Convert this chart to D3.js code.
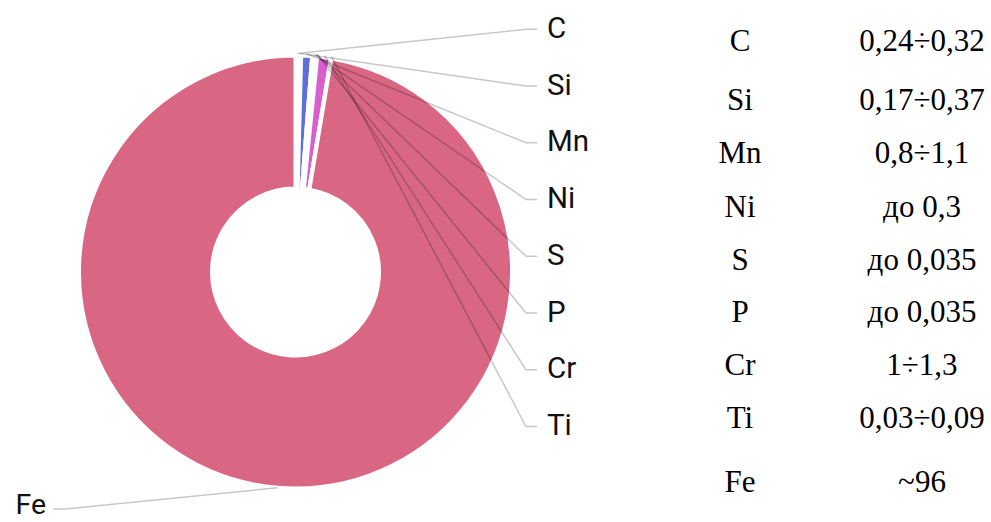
<!DOCTYPE html>
<html>
<head>
<meta charset="utf-8">
<script src="https://cdn.jsdelivr.net/npm/d3@7"></script>
<style>
  html, body { margin: 0; padding: 0; background: #fff; }
  svg { display: block; }
</style>
</head>
<body>
<svg id="chart" width="991" height="522"></svg>
<script>
// Composition of the steel, mass %
const elements = ["C", "Si", "Mn", "Ni", "S", "P", "Cr", "Ti", "Fe"];
const shares   = [0.24, 0.17, 0.8, 0.3, 0.035, 0.035, 1, 0.03, 96];
const ranges   = ["0,24÷0,32", "0,17÷0,37", "0,8÷1,1", "до 0,3", "до 0,035",
                  "до 0,035", "1÷1,3", "0,03÷0,09", "~96"];
const colors   = ["#8fa6e8", "#f2b0c8", "#606ddc", "#9fd4e8", "#f5c98a",
                  "#b8e0a8", "#d95fcf", "#f0d0a0", "#d96784"];

const W = 991, H = 522;
const cx = 295.5, cy = 272, R = 216.5, r0 = 83.5;

const svg = d3.select("#chart");
svg.append("rect").attr("width", W).attr("height", H).attr("fill", "#fff");

const data = elements.map((e, i) => ({ name: e, value: shares[i], color: colors[i], range: ranges[i] }));

const pie = d3.pie().sort(null).value(d => d.value).startAngle(0).endAngle(2 * Math.PI);
const arcs = pie(data);
const arc = d3.arc().innerRadius(r0).outerRadius(R);

const g = svg.append("g").attr("transform", `translate(${cx},${cy})`);

g.selectAll("path.slice")
  .data(arcs)
  .join("path")
  .attr("class", "slice")
  .attr("d", arc)
  .attr("fill", d => d.data.color)
  .attr("stroke", "#fff")
  .attr("stroke-width", 4)
  .attr("stroke-linejoin", "round");

// label rows on the right for the minor elements
const minor = arcs.filter(d => d.data.name !== "Fe");
const rowY = d3.scalePoint().domain(minor.map(d => d.data.name)).range([29.3, 426.5]);

const edge = (d, rr) => {
  const a = (d.startAngle + d.endAngle) / 2;
  return [cx + rr * Math.sin(a), cy - rr * Math.cos(a)];
};

const line = d3.line();
const connectors = svg.append("g")
  .attr("fill", "none")
  .attr("stroke", "#000")
  .attr("stroke-opacity", 0.22)
  .attr("stroke-width", 1.5);

const labelFont = "Roboto, 'Liberation Sans', Arial, sans-serif";

minor.forEach(d => {
  const y = rowY(d.data.name);
  const p0 = edge(d, R + 2);
  connectors.append("path").attr("d", line([p0, [526, y], [537, y]]));
  svg.append("text")
    .attr("x", 547).attr("y", y + 8.5)
    .attr("font-family", labelFont)
    .attr("font-size", 29.5)
    .attr("fill", "#111")
    .text(d.data.name);
});

const fe = arcs.find(d => d.data.name === "Fe");
{
  const p0 = edge(fe, R);
  const y = 509;
  connectors.append("path").attr("d", line([p0, [65, y], [53, y]]));
  svg.append("text")
    .attr("x", 46).attr("y", 514)
    .attr("text-anchor", "end")
    .attr("font-family", labelFont)
    .attr("font-size", 28.5)
    .attr("fill", "#111")
    .text("Fe");
}

// composition table
const rowBaseline = [50.7, 110, 163, 217, 270, 321.7, 375, 428, 492];
const table = svg.append("g")
  .attr("font-family", "'Liberation Serif', 'Times New Roman', serif")
  .attr("font-size", 31)
  .attr("fill", "#000")
  .attr("text-anchor", "middle");

data.forEach((d, i) => {
  table.append("text").attr("x", 740).attr("y", rowBaseline[i]).text(d.name);
  table.append("text").attr("x", 922).attr("y", rowBaseline[i]).text(d.range);
});
</script>
</body>
</html>
